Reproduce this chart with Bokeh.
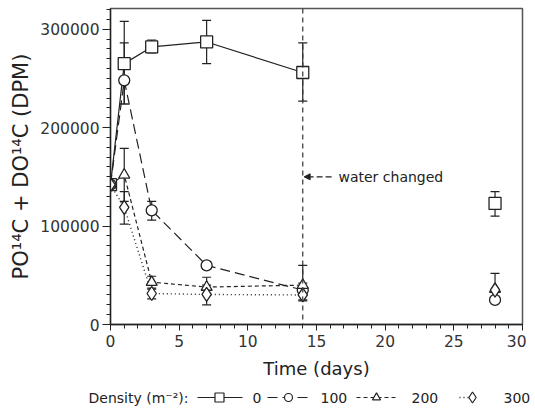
from bokeh.plotting import figure
from bokeh.layouts import column
from bokeh.core.properties import value
from bokeh.models import (Range1d, SingleIntervalTicker, BasicTickFormatter, Whisker, TeeHead,
                          ColumnDataSource, Span, Arrow, NormalHead, Label)
from bokeh.embed import file_html
from bokeh.resources import INLINE

days = [0, 1, 3, 7, 14, 28]
n_line = 5  # points joined by lines (up to day 14)

d0 = [142000, 265000, 282000, 287000, 256000, 123000]
d0_lo = [None, 224000, 276000, 265000, 227000, 110000]
d0_hi = [None, 308000, 289000, 309000, 286000, 135000]

d100 = [142000, 248000, 116000, 60000, 35000, 25000]
d100_lo = [None, 224000, 106000, 56000, 30000, None]
d100_hi = [None, 286000, 125000, 64000, 42000, None]

d200 = [142000, 152000, 43000, 38000, 40000, 36000]
d200_lo = [None, 125000, 37000, 30000, 25000, 28000]
d200_hi = [None, 179000, 49000, 48000, 60000, 52000]

d300 = [142000, 119000, 31500, 30500, 30000, 35000]
d300_lo = [None, 102000, 26000, 20000, 24000, None]
d300_hi = [None, 135000, 36000, 40000, 36000, None]

labels = ["0", "100", "200", "300"]
legend_title = "Density (m\u207b\u00b2):"
water_day = 14
water_level = 150000

FONT = "DejaVu Sans"
INK = "#222222"

p = figure(frame_width=412, frame_height=316, output_backend="svg", toolbar_location=None,
           x_range=Range1d(0, 30), y_range=Range1d(0, 321000),
           min_border_left=110, min_border_right=4, min_border_top=8, min_border_bottom=62)
p.frame_align = False
p.grid.visible = False
p.outline_line_color = "#555555"
p.outline_line_width = 1.5

# axes
p.xaxis.ticker = SingleIntervalTicker(interval=5, num_minor_ticks=5)
p.yaxis.ticker = SingleIntervalTicker(interval=100000, num_minor_ticks=10)
p.yaxis.formatter = BasicTickFormatter(use_scientific=False)
for ax in (p.xaxis, p.yaxis):
    ax.axis_line_color = INK
    ax.axis_line_width = 1.3
    ax.major_tick_line_color = INK
    ax.minor_tick_line_color = INK
    ax.major_tick_in = 0
    ax.minor_tick_in = 0
    ax.major_label_text_font = FONT
    ax.major_label_text_font_size = "15.5px"
    ax.major_label_text_color = "#333333"
    ax.axis_label_text_font = FONT
    ax.axis_label_text_font_style = "normal"
    ax.axis_label_text_color = INK
p.yaxis.axis_label_text_font_size = "21px"
p.xaxis.axis_label_text_font_size = "18px"
p.yaxis.major_tick_out = 8
p.yaxis.minor_tick_out = 4
p.xaxis.major_tick_out = 6
p.xaxis.minor_tick_out = 4
p.yaxis.major_label_standoff = 3
p.xaxis.major_label_standoff = 4
p.yaxis.axis_label_standoff = 4
p.xaxis.axis_label_standoff = 8
p.xaxis.axis_label = "Time (days)"
p.yaxis.axis_label = "PO\u00b9\u2074C + DO\u00b9\u2074C (DPM)"

# water change line
p.add_layout(Span(location=water_day, dimension="height", line_color="#333333",
                  line_dash="5 4", line_width=1.2))

series = [
    ("square", 12, "solid", 1.2),
    ("circle", 11, "10 5", 1.2),
    ("triangle", 11, "4 3", 1.2),
    ("diamond", 14, "1 3", 1.4),
]
values = [(d0, d0_lo, d0_hi), (d100, d100_lo, d100_hi),
          (d200, d200_lo, d200_hi), (d300, d300_lo, d300_hi)]

for (vals, lo, hi), (marker, size, dash, lw) in zip(values, series):
    p.line(days[:n_line], vals[:n_line], line_color=INK, line_width=lw, line_dash=dash)
    ex = [d for d, a in zip(days, lo) if a is not None]
    el = [a for a in lo if a is not None]
    eh = [b for a, b in zip(lo, hi) if a is not None]
    src = ColumnDataSource(dict(x=ex, lo=el, hi=eh))
    p.add_layout(Whisker(source=src, base="x", lower="lo", upper="hi",
                         line_color=INK, line_width=1.2,
                         upper_head=TeeHead(size=9, line_color=INK, line_width=1.2),
                         lower_head=TeeHead(size=9, line_color=INK, line_width=1.2)))
    p.scatter(days, vals, marker=marker, size=size, fill_color="white",
              line_color=INK, line_width=1.3)

# annotation
p.add_layout(Arrow(end=NormalHead(size=6, fill_color=INK, line_color=INK),
                   x_start=water_day + 2.1, y_start=water_level,
                   x_end=water_day + 0.1, y_end=water_level,
                   line_color=INK, line_width=1.1, line_dash="6 3"))
p.add_layout(Label(x=water_day + 2.6, y=water_level, text="water changed",
                   text_font=FONT, text_font_size="14px", text_color=INK,
                   text_baseline="middle"))

# legend strip (pixel layout)
q = figure(width=535, height=22, output_backend="svg", toolbar_location=None,
           x_range=Range1d(0, 535), y_range=Range1d(0, 22),
           x_axis_location=None, y_axis_location=None,
           min_border_left=0, min_border_right=0, min_border_top=0, min_border_bottom=0)
q.frame_align = False
q.grid.visible = False
q.outline_line_color = None

LEG_Y = 11
title_x = 88
key_x0 = [197, 267, 356, 459]
key_x1 = [242, 310, 397, 468]
mark_x = [219, 288, 376, 472]
lab_x = [252, 320, 411, 503]

q.text(x=[title_x], y=[LEG_Y], text=[legend_title], text_font=value(FONT),
       text_font_size="14px", text_color=INK, text_baseline="middle")
for (marker, size, dash, lw), lab, a, b, m, lx in zip(series, labels, key_x0, key_x1, mark_x, lab_x):
    q.line([a, b], [LEG_Y, LEG_Y], line_color=INK, line_width=lw, line_dash=dash)
    q.scatter([m], [LEG_Y], marker=marker, size=size - 3, fill_color="white",
              line_color=INK, line_width=1.2)
    q.text(x=[lx], y=[LEG_Y], text=[lab], text_font=value(FONT),
           text_font_size="14px", text_color=INK, text_baseline="middle")

open("out.html", "w").write(file_html(column(p, q, spacing=0), INLINE))
